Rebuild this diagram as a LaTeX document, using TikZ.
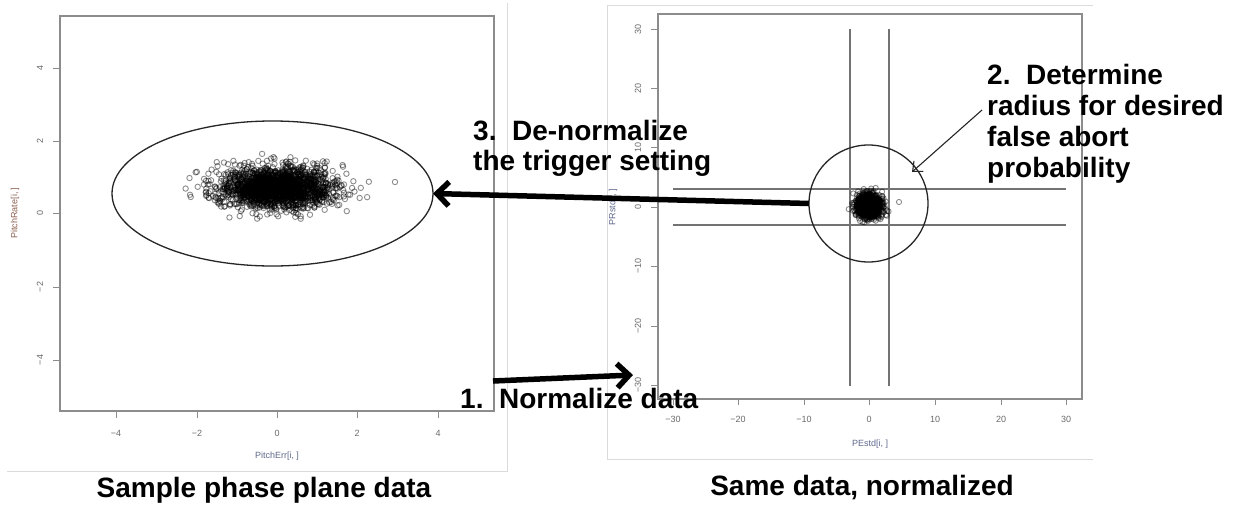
\documentclass[tikz,border=0pt]{standalone}
\usepackage{fontspec}
\setmainfont{Liberation Sans}
\usetikzlibrary{arrows.meta,shapes.geometric}
\definecolor{framegray}{gray}{0.86}
\definecolor{boxgray}{gray}{0.55}
\definecolor{tickgray}{gray}{0.42}
\definecolor{titleblue}{RGB}{95,105,140}
\definecolor{titlebrown}{RGB}{140,95,80}
% one standard normal pair (Box-Muller), written to \gu and \gv
\newcommand{\normalpair}{%
  \pgfmathsetmacro{\gr}{min(sqrt(-2*ln(max(rnd,0.0005))),3.3)}%
  \pgfmathsetmacro{\ga}{360*rnd}%
  \pgfmathsetmacro{\gu}{\gr*cos(\ga)}%
  \pgfmathsetmacro{\gv}{\gr*sin(\ga)}%
}
\begin{document}
\begin{tikzpicture}[x=1pt,y=-1pt,
  frame/.style={draw=framegray, line width=0.8pt},
  plotbox/.style={draw=boxgray, line width=1.1pt},
  tickmark/.style={draw=boxgray, line width=0.9pt},
  ticklabel/.style={font=\fontsize{9}{10}\selectfont, text=tickgray, inner sep=0pt},
  axtitle/.style={font=\fontsize{9}{10}\selectfont, inner sep=0pt},
  refline/.style={draw=black!55, line width=1.1pt},
  bound/.style={draw=black!85, line width=1.3pt, ellipse, inner sep=0pt, outer sep=0pt},
  pt/.style={draw=black, draw opacity=0.45, line width=0.9pt},
  caption/.style={font=\bfseries\fontsize{28}{31}\selectfont, inner sep=0pt},
  bigarrow/.style={line width=5.5pt, -{Straight Barb[length=12pt,width=24pt]}},
  thinarrow/.style={line width=1.1pt, draw=black!85, -{Straight Barb[length=8pt,width=14pt]}}
]
\useasboundingbox (0,0) rectangle (1233,506);
\fill[white] (0,0) rectangle (1233,506);

% ---------------- left panel: raw phase-plane data ----------------
\draw[frame] (507,3) -- (507,471) -- (7,471);
\draw[plotbox] (60,16) rectangle (494,411);
\foreach \l/\p in {−4/116,−2/197,0/277,2/357,4/438}{
  \draw[tickmark] (\p,411) -- (\p,418);
  \node[ticklabel] at (\p,433) {\l};
}
\foreach \l/\p in {4/68,2/141,0/213,−2/287,−4/360}{
  \draw[tickmark] (53,\p) -- (60,\p);
  \node[ticklabel, rotate=90] at (40,\p) {\l};
}
\node[axtitle, text=titleblue] (xtl) at (277,456) {PitchErr[i, ]};
\node[axtitle, text=titlebrown, rotate=90] (ytl) at (15,213) {PitchRate[i, ]};

% scattered samples
\pgfmathsetseed{4217}
\foreach \k in {1,...,2000}{
  \normalpair
  \draw[pt] ({278+28*\gu},{188-10.5*\gv}) circle[radius=2.7pt];
}
\draw[pt] (395,182) circle[radius=2.7pt];

% trigger boundary in the original coordinates
\node[bound, minimum width=321pt, minimum height=145pt] (ell) at (272.5,193.5) {};

% ---------------- right panel: normalised data ----------------
\draw[frame] (1093,5) -- (607,5) -- (607,459) -- (1093,459);
\draw[plotbox] (658,14) rectangle (1082,399);
\foreach \l/\p in {−30/673,−20/738,−10/804,0/869,10/935,20/1001,30/1066}{
  \draw[tickmark] (\p,399) -- (\p,405);
  \node[ticklabel] at (\p,419) {\l};
}
\foreach \l/\p in {30/29,20/88,10/147,0/207,−10/266,−20/326,−30/385}{
  \draw[tickmark] (651,\p) -- (658,\p);
  \node[ticklabel, rotate=90] at (638,\p) {\l};
}
\node[axtitle, text=titleblue] (xtr) at (870,444) {PEstd[i, ]};
\node[axtitle, text=titleblue, rotate=90] (ytr) at (613,207) {PRstd[i, ]};

% +/- 3 sigma reference lines
\draw[refline] (850,29) -- (850,386);
\draw[refline] (889,29) -- (889,386);
\draw[refline] (673,189) -- (1066,189);
\draw[refline] (673,225) -- (1066,225);

\pgfmathsetseed{911}
\foreach \k in {1,...,1200}{
  \normalpair
  \draw[pt] ({869+6.3*\gu},{206-5.8*\gv}) circle[radius=2.6pt];
}
\draw[pt] (899,202) circle[radius=2.6pt];

% trigger radius in the normalised plane
\node[bound, minimum width=119pt, minimum height=117pt] (circ) at (868.5,203.5) {};

% ---------------- annotations ----------------
\node[caption, anchor=base west] (s3a) at (473,140) {3.\ \ De-normalize};
\node[caption, anchor=base west] (s3b) at (473,170) {the trigger setting};

\node[caption, anchor=base west] (s2a) at (987,84) {2.\ \ Determine};
\node[caption, anchor=base west] (s2b) at (987,115) {radius for desired};
\node[caption, anchor=base west] (s2c) at (987,146) {false abort};
\node[caption, anchor=base west] (s2d) at (987,177) {probability};

\node[caption, anchor=base west] (s1) at (460,408) {1.\ \ Normalize data};

\node[caption, anchor=base] (capl) at (264,497) {Sample phase plane data};
\node[caption, anchor=base] (capr) at (862,495) {Same data, normalized};

% connectors
\coordinate (a1s) at (493,381);
\coordinate (a1e) at (633,375);
\coordinate (a2s) at (982,110);
\coordinate (a2e) at (912,172);
\draw[bigarrow] (a1s) -- (a1e);
\draw[bigarrow] (circ.west) -- (ell.east);
\draw[thinarrow] (a2s) -- (a2e);
\end{tikzpicture}
\end{document}
